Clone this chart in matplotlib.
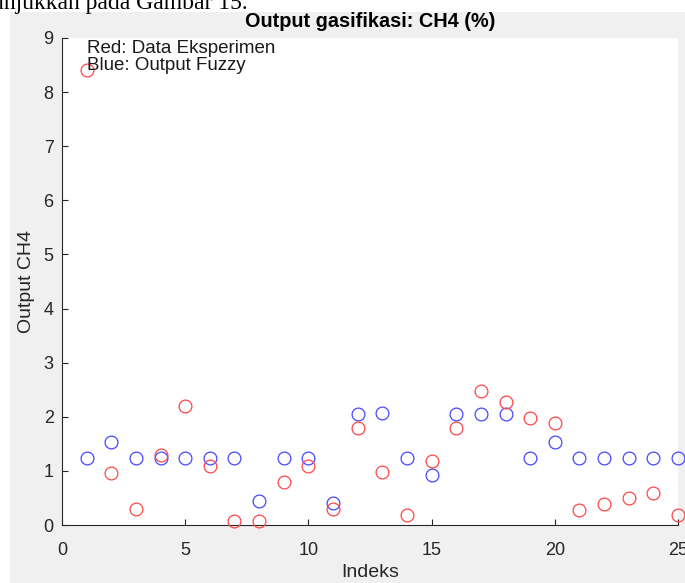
import matplotlib
matplotlib.use("Agg")
import matplotlib.pyplot as plt
from matplotlib.patches import Rectangle

# ---- data ----
indeks = list(range(1, 26))
data_eksperimen = [8.4, 0.97, 0.29, 1.29, 2.19, 1.09, 0.08, 0.08, 0.79, 1.09,
                   0.29, 1.79, 0.98, 0.18, 1.19, 1.79, 2.48, 2.28, 1.98, 1.88,
                   0.28, 0.38, 0.49, 0.59, 0.18]
output_fuzzy = [1.24, 1.54, 1.24, 1.24, 1.24, 1.24, 1.24, 0.45, 1.24, 1.24,
                0.40, 2.06, 2.07, 1.24, 0.92, 2.06, 2.06, 2.06, 1.24, 1.54,
                1.24, 1.24, 1.24, 1.24, 1.24]
xticks = [0, 5, 10, 15, 20, 25]
yticks = [0, 1, 2, 3, 4, 5, 6, 7, 8, 9]

plt.rcParams['font.family'] = ['Liberation Sans', 'DejaVu Sans']

W, H = 685, 583
fig = plt.figure(figsize=(W / 100, H / 100), dpi=100, facecolor='white')

# gray MATLAB figure background
bg = Rectangle((10 / W, 0), 1 - 10 / W, (H - 12) / H,
               transform=fig.transFigure, facecolor='#f0f0f0',
               edgecolor='none', zorder=-10)
fig.patches.append(bg)
# cropped document text at the top
fig.text(248 / W, 1 - 8.5 / H, "ditunjukkan pada Gambar 15.", ha='right',
         va='baseline', fontsize=17, family=['Liberation Serif', 'DejaVu Serif'],
         color='black', zorder=-5)

ax = fig.add_axes([62 / W, (H - 525) / H, (678 - 62) / W, (525 - 38) / H])
ax.set_zorder(1)
ax.set_facecolor('white')

red = '#ff4646'
blue = '#4646ff'
ax.plot(indeks, output_fuzzy, linestyle='none', marker='o', markersize=9.2,
        markerfacecolor='none', markeredgecolor=blue, markeredgewidth=0.9,
        clip_on=False, zorder=3)
ax.plot(indeks, data_eksperimen, linestyle='none', marker='o', markersize=9.2,
        markerfacecolor='none', markeredgecolor=red, markeredgewidth=0.9,
        clip_on=False, zorder=3)

ax.text(1, 8.8, "Red: Data Eksperimen", fontsize=13.5, va='center', ha='left',
        color='#1a1a1a', zorder=4)
ax.text(1, 8.5, "Blue: Output Fuzzy", fontsize=13.5, va='center', ha='left',
        color='#1a1a1a', zorder=4)

ax.set_xlim(0, 25)
ax.set_ylim(0, 9)
ax.set_xticks(xticks)
ax.set_yticks(yticks)
ax.spines['top'].set_visible(False)
ax.spines['right'].set_visible(False)
for s in ('left', 'bottom'):
    ax.spines[s].set_color('#262626')
    ax.spines[s].set_linewidth(0.8)
ax.tick_params(direction='in', length=4, width=0.8, color='#262626',
               labelcolor='#262626', labelsize=13)
ax.tick_params(axis='y', pad=6)
ax.tick_params(axis='x', pad=12)

ax.set_title("Output gasifikasi: CH4 (%)", fontsize=14.3, fontweight='bold',
             color='black', pad=8)
ax.set_xlabel("Indeks", fontsize=14, color='#262626', labelpad=4)
ax.set_ylabel("Output CH4", fontsize=14, color='#262626', labelpad=6)

fig.savefig("out.png", dpi=100, facecolor='white')
